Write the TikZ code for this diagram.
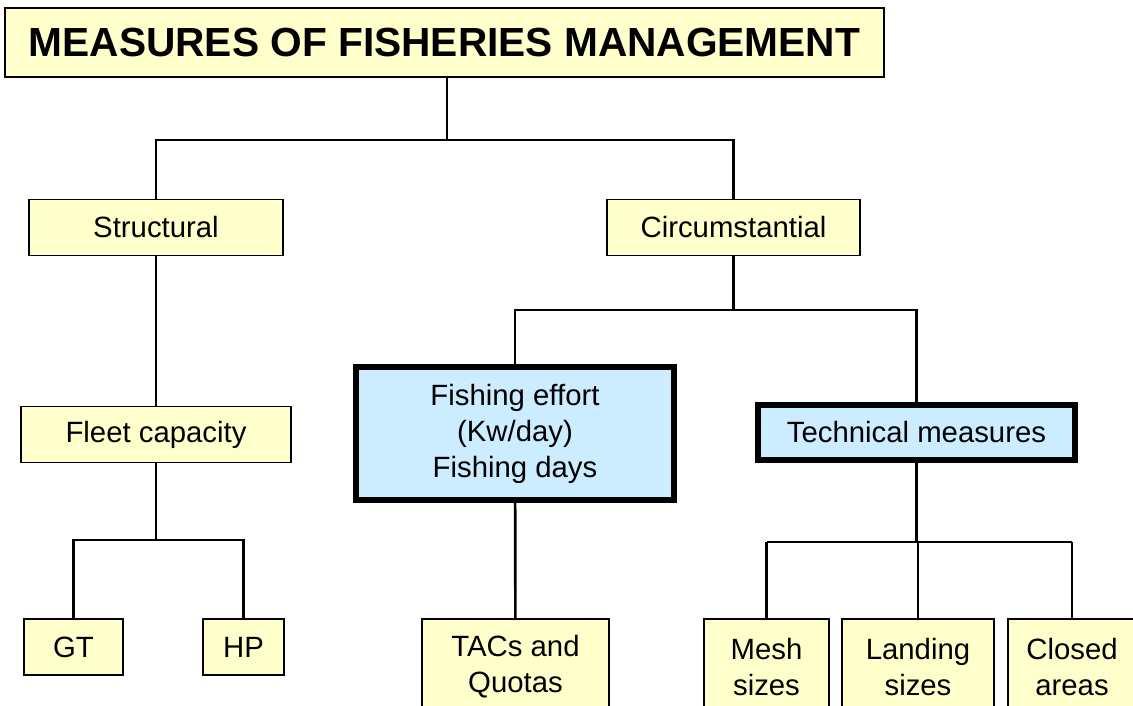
\documentclass[tikz,border=0pt]{standalone}
\usepackage{fontspec}
\setmainfont{Liberation Sans}
\usepackage{tikz}
\usetikzlibrary{positioning}
\definecolor{paleyellow}{HTML}{FFFFCC}
\definecolor{paleblue}{HTML}{CCECFF}
\tikzset{
	measure/.style={
		rectangle,
		fill=paleyellow,
		draw=black, line width=1.3pt,
		align=center,
		inner sep=0pt,
		minimum height=42pt,
		font={\fontsize{22pt}{27pt}\selectfont}
	},
	keymeasure/.style={
		measure,
		fill=paleblue,
		line width=4.5pt
	},
	headline/.style={
		measure,
		font={\bfseries\fontsize{30.5pt}{36pt}\selectfont}
	},
	branch/.style={draw, line width=2pt},
}

\begin{document}
\begin{tikzpicture}[x=0.75pt,y=-0.75pt]
	\useasboundingbox (0,0) rectangle (1133,706);
	\clip (0,0) rectangle (1133,706);
	% boxes
	\node[headline, minimum width=659pt, minimum height=51.75pt] (title) at (444.5,42.5) {MEASURES OF FISHERIES MANAGEMENT};
	\node[measure, minimum width=190.5pt] (struct) at (156,227.5) {Structural};
	\node[measure, minimum width=190pt] (circ) at (733.5,227.5) {Circumstantial};
	\node[measure, minimum width=202.5pt] (fleet) at (156,434.5) {Fleet capacity};
	\node[measure, minimum width=74.25pt] (gt) at (73.5,647) {GT};
	\node[measure, minimum width=60.75pt] (hp) at (243.5,647) {HP};
	\node[keymeasure, minimum width=238.5pt, minimum height=99.75pt] (effort) at (515,433.5) {Fishing effort\\(Kw/day)\\Fishing days};
	\node[keymeasure, minimum width=237.75pt, minimum height=41.25pt] (tech) at (916.5,432.5) {Technical measures};
	\node[measure, minimum width=140.25pt, minimum height=72pt] (tacs) at (515.5,667) {TACs and\\Quotas};
	\node[measure, minimum width=93.75pt, minimum height=72pt] (mesh) at (766.5,667) {Mesh\\sizes};
	\node[measure, minimum width=114pt, minimum height=72pt] (landing) at (918,667) {Landing\\sizes};
	\node[measure, minimum width=96pt, minimum height=72pt] (closed) at (1072,667) {Closed\\areas};
	% tree
	\coordinate (topsplit) at (447,140);
	\coordinate (fleetsplit) at (156,540);
	\coordinate (circsplit) at (733.5,310);
	\coordinate (techsplit) at (916.5,542);
	\draw[branch] (title.south -| topsplit) -- (topsplit);
	\draw[branch] (struct.north) |- (topsplit) -| (circ.north);
	\draw[branch] (struct) -- (fleet);
	\draw[branch] (fleet.south) -- (fleetsplit);
	\draw[branch] (gt.north) |- (fleetsplit) -| (hp.north);
	\draw[branch] (circ.south) -- (circsplit);
	\draw[branch] (effort.north) |- (circsplit) -| (tech.north);
	\draw[branch] (effort) -- (tacs);
	\draw[branch] (tech.south) -- (techsplit);
	\draw[branch] (mesh.north |- techsplit) -- (closed.north |- techsplit);
	\foreach \leaf in {mesh,landing,closed}
		\draw[branch] (\leaf.north) -- (\leaf.north |- techsplit);
\end{tikzpicture}
\end{document}
